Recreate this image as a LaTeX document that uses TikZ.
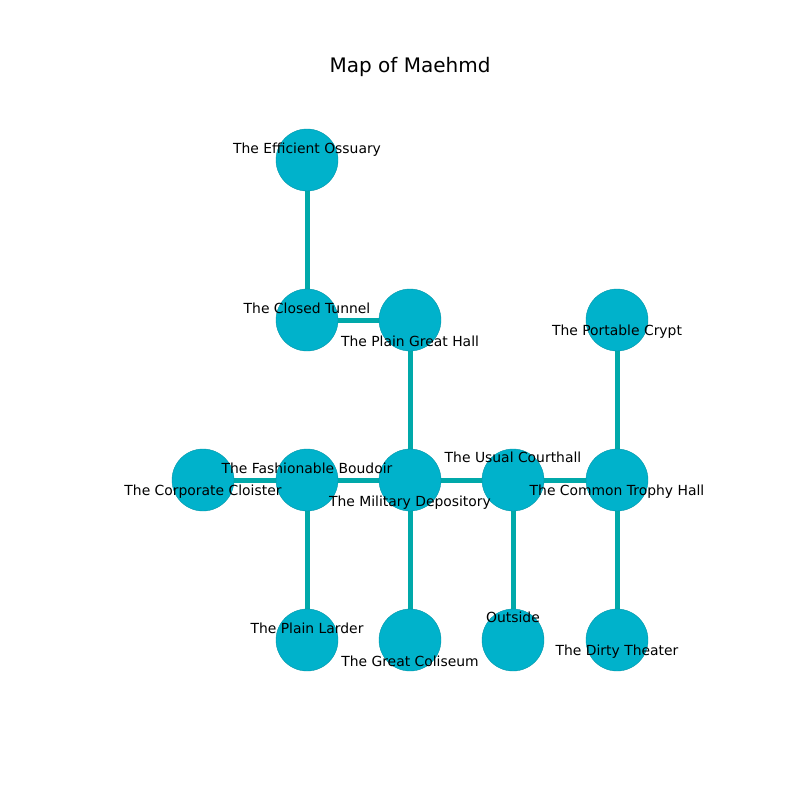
\documentclass[tikz,border=0pt]{standalone}
\usepackage{fontspec}
\setmainfont{DejaVu Sans}
\definecolor{roomfill}{HTML}{00B2CB}
\definecolor{roomline}{HTML}{0095A8}
\definecolor{pathcol}{HTML}{00A9AA}
\tikzset{
  room/.style={circle, fill=roomfill, draw=roomline, line width=0.4pt, minimum size=62pt, inner sep=0pt},
  passage/.style={draw=pathcol, line width=5pt},
  roomname/.style={font=\fontsize{13.9}{16}\selectfont, inner sep=0pt}
}
\begin{document}
\begin{tikzpicture}[x=1pt,y=-1pt]
        \useasboundingbox (0,0) rectangle (800,800);
        \node[font=\fontsize{20}{24}\selectfont] (title) at (410,67) {Map of Maehmd};

        % rooms
        \coordinate (ossuary) at (307,160);
        \coordinate (tunnel) at (307,320);
        \coordinate (greathall) at (410,320);
        \coordinate (crypt) at (617,320);
        \coordinate (cloister) at (203,480);
        \coordinate (boudoir) at (307,480);
        \coordinate (depository) at (410,480);
        \coordinate (courthall) at (513,480);
        \coordinate (trophy) at (617,480);
        \coordinate (larder) at (307,640);
        \coordinate (coliseum) at (410,640);
        \coordinate (outside) at (513,640);
        \coordinate (theater) at (617,640);

        \foreach \a/\b in {ossuary/tunnel, tunnel/greathall, greathall/depository,
                           cloister/boudoir, boudoir/depository, depository/courthall,
                           courthall/trophy, crypt/trophy, boudoir/larder,
                           depository/coliseum, courthall/outside, trophy/theater}
          \draw[passage] (\a) -- (\b);

        \foreach \r in {ossuary, tunnel, greathall, crypt, cloister, boudoir, depository,
                        courthall, trophy, larder, coliseum, outside, theater}
          \node[room] (\r-c) at (\r) {};

        % names
        \node[roomname] (ossuary-n) at (307,150) {The Efficient Ossuary};
        \node[roomname] (tunnel-n) at (307,308) {The Closed Tunnel};
        \node[roomname] (greathall-n) at (410,341) {The Plain Great Hall};
        \node[roomname] (crypt-n) at (617,332) {The Portable Crypt};
        \node[roomname] (cloister-n) at (203,492) {The Corporate Cloister};
        \node[roomname] (boudoir-n) at (307,468) {The Fashionable Boudoir};
        \node[roomname] (depository-n) at (410,503) {The Military Depository};
        \node[roomname] (courthall-n) at (513,457) {The Usual Courthall};
        \node[roomname] (trophy-n) at (617,492) {The Common Trophy Hall};
        \node[roomname] (larder-n) at (307,628) {The Plain Larder};
        \node[roomname] (coliseum-n) at (410,661) {The Great Coliseum};
        \node[roomname] (outside-n) at (513,617) {Outside};
        \node[roomname] (theater-n) at (617,652) {The Dirty Theater};
      \end{tikzpicture}
\end{document}
